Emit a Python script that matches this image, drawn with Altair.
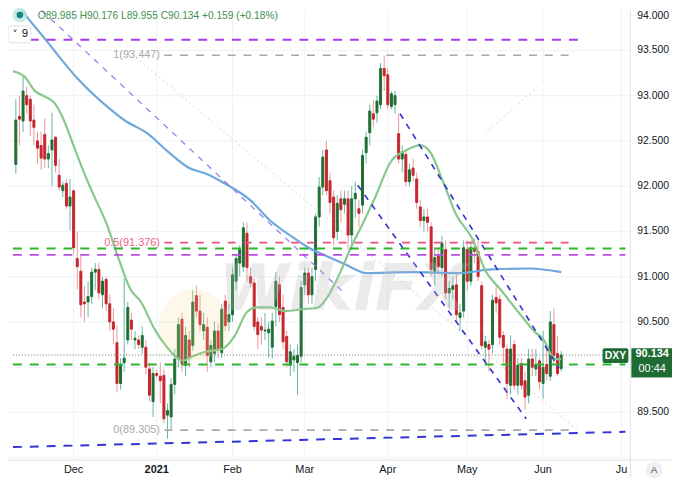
import altair as alt
import pandas as pd

# ---------------- data ----------------
dates = pd.bdate_range("2020-11-09", "2021-06-08")

opens = [
    92.24, 92.77, 92.72, 93.00, 92.96, 92.73, 92.50, 92.45, 92.57, 92.30,
    92.40, 92.54, 92.12, 91.95, 92.03, 91.78, 91.95, 91.20, 91.06, 90.72,
    90.72, 90.78, 91.05, 91.08, 90.80, 90.97, 90.70, 90.50, 90.27, 89.82,
    90.05, 90.30, 90.52, 90.30, 90.30, 90.22, 90.22, 89.98, 89.62, 89.93,
    89.90, 89.91, 89.47, 89.45, 89.81, 90.09, 90.53, 90.02, 90.30, 90.24,
    90.79, 90.62, 90.40, 90.44, 90.06, 90.15, 90.40, 90.16, 90.73, 90.50,
    90.58, 90.95, 91.15, 91.11, 91.48, 91.00, 90.93, 90.50, 90.45, 90.40,
    90.38, 90.22, 90.67, 90.91, 90.66, 90.34, 90.02, 90.08, 90.05, 90.12,
    90.91, 91.04, 90.80, 91.08, 91.66, 91.99, 92.40, 92.06, 91.88, 91.50,
    91.86, 91.80, 91.86, 91.46, 91.86, 91.75, 91.79, 92.37, 92.59, 92.80,
    92.81, 92.90, 93.30, 93.23, 92.88, 92.90, 92.58, 92.30, 92.35, 92.05,
    92.20, 92.08, 91.77, 91.62, 91.66, 91.55, 91.06, 91.23, 91.10, 91.30,
    90.82, 90.86, 90.91, 90.55, 90.62, 91.30, 90.95, 91.30, 91.28, 90.90,
    90.22, 90.25, 90.25, 90.77, 90.75, 90.35, 90.20, 89.80, 90.25, 89.80,
    90.04, 89.85, 89.69, 90.09, 89.98, 90.07, 89.82, 90.03, 89.90, 90.47,
    90.15, 89.985,
]
highs = [
    92.96, 93.00, 93.21, 93.10, 93.00, 92.90, 92.60, 92.60, 92.75, 92.45,
    92.81, 92.55, 92.30, 92.05, 92.08, 92.08, 91.95, 91.50, 91.25, 90.90,
    90.95, 91.10, 91.15, 91.15, 91.00, 91.00, 90.80, 90.65, 90.46, 90.10,
    90.98, 90.72, 90.60, 90.40, 90.35, 90.45, 90.30, 90.05, 90.00, 89.97,
    90.05, 89.98, 89.60, 89.88, 90.20, 90.55, 90.60, 90.45, 90.40, 90.85,
    90.90, 90.80, 90.60, 90.55, 90.30, 90.50, 90.48, 90.70, 90.80, 90.70,
    91.10, 91.25, 91.35, 91.60, 91.60, 91.10, 90.98, 90.55, 90.55, 90.60,
    90.50, 90.60, 91.05, 91.00, 90.80, 90.40, 90.25, 90.20, 90.25, 90.95,
    91.10, 91.10, 91.10, 91.70, 92.10, 92.40, 92.50, 92.15, 91.95, 91.90,
    91.95, 91.95, 91.95, 92.00, 92.05, 91.85, 92.40, 92.60, 92.90, 92.95,
    93.00, 93.36, 93.44, 93.30, 93.05, 93.05, 92.80, 92.45, 92.40, 92.25,
    92.30, 92.15, 91.85, 91.75, 91.75, 91.60, 91.30, 91.30, 91.45, 91.40,
    90.95, 91.00, 91.05, 90.70, 91.40, 91.40, 91.40, 91.42, 91.40, 90.95,
    90.35, 90.30, 90.80, 90.90, 90.80, 90.40, 90.25, 90.35, 90.30, 90.10,
    90.10, 89.95, 90.20, 90.20, 90.20, 90.10, 90.40, 90.20, 90.62, 90.65,
    90.35, 90.176,
]
lows = [
    92.14, 92.45, 92.60, 92.80, 92.55, 92.45, 92.25, 92.18, 92.20, 92.20,
    92.00, 92.15, 91.95, 91.88, 91.75, 91.51, 91.25, 90.86, 90.55, 90.50,
    90.55, 90.70, 90.85, 90.75, 90.65, 90.62, 90.40, 90.25, 89.72, 89.75,
    89.95, 90.25, 90.30, 90.20, 90.20, 90.15, 89.92, 89.62, 89.45, 89.88,
    89.60, 89.38, 89.21, 89.30, 89.70, 90.00, 89.95, 89.90, 90.00, 90.18,
    90.55, 90.40, 90.30, 89.95, 90.00, 90.05, 90.10, 90.10, 90.40, 90.40,
    90.50, 90.85, 91.00, 91.05, 90.95, 90.88, 90.40, 90.20, 90.25, 90.30,
    90.10, 90.10, 90.45, 90.50, 90.20, 90.00, 89.90, 89.95, 89.69, 90.05,
    90.80, 90.70, 90.70, 90.95, 91.55, 91.90, 91.90, 91.70, 91.35, 91.40,
    91.60, 91.70, 91.30, 91.30, 91.65, 91.55, 91.70, 92.25, 92.45, 92.65,
    92.70, 92.85, 93.05, 92.85, 92.85, 92.80, 92.25, 92.15, 92.00, 92.00,
    92.05, 91.75, 91.55, 91.50, 91.50, 91.00, 90.90, 91.05, 91.00, 90.75,
    90.65, 90.75, 90.50, 90.40, 90.55, 90.85, 90.90, 91.15, 90.95, 90.20,
    90.05, 89.95, 90.15, 90.60, 90.25, 90.05, 89.65, 89.70, 89.75, 89.70,
    89.75, 89.53, 89.60, 89.90, 89.90, 89.75, 89.65, 89.85, 89.85, 90.05,
    89.90, 89.955,
]
closes = [
    92.73, 92.74, 93.05, 92.90, 92.72, 92.65, 92.42, 92.31, 92.30, 92.36,
    92.51, 92.23, 91.99, 92.01, 91.78, 91.88, 91.32, 91.11, 90.69, 90.70,
    90.78, 91.05, 91.08, 90.82, 90.95, 90.70, 90.50, 90.42, 89.82, 90.02,
    90.10, 90.66, 90.42, 90.32, 90.25, 90.35, 90.00, 89.69, 89.93, 89.91,
    89.85, 89.43, 89.52, 89.81, 90.09, 90.47, 90.04, 90.35, 90.10, 90.72,
    90.62, 90.47, 90.47, 90.13, 90.24, 90.40, 90.19, 90.64, 90.46, 90.58,
    91.02, 91.20, 91.30, 91.54, 91.10, 90.93, 90.45, 90.36, 90.41, 90.41,
    90.42, 90.51, 90.95, 90.58, 90.28, 90.06, 90.17, 90.12, 90.13, 90.88,
    91.04, 90.80, 91.00, 91.66, 91.99, 92.32, 91.95, 91.82, 91.43, 91.81,
    91.74, 91.86, 91.46, 91.86, 91.92, 91.70, 92.34, 92.54, 92.83, 92.74,
    92.94, 93.30, 93.22, 92.90, 93.02, 93.00, 92.30, 92.38, 92.05, 92.18,
    92.12, 91.82, 91.62, 91.66, 91.60, 91.08, 91.21, 91.11, 91.37, 90.82,
    90.87, 90.90, 90.58, 90.60, 91.32, 90.95, 91.32, 91.28, 91.00, 90.24,
    90.28, 90.20, 90.74, 90.71, 90.33, 90.22, 89.82, 90.20, 89.80, 90.02,
    89.80, 89.67, 90.09, 90.00, 90.03, 89.84, 90.00, 89.93, 90.50, 90.13,
    89.93, 90.134,
]

# month ticks (bar index of first session of each month) and their labels
month_tick_idx = [16, 39, 60, 80, 103, 125, 146, 167.7]
month_tick_lbl = ["Dec", "2021", "Feb", "Mar", "Apr", "May", "Jun", "Ju"]
year_label = "2021"
price_grid = [89.0, 89.5, 90.0, 90.5, 91.0, 91.5, 92.0, 92.5, 93.0, 93.5, 94.0]
price_labels = [89.5, 90.5, 91.0, 91.5, 92.0, 92.5, 93.0, 93.5]
top_price_label = 94.0

# moving averages (bar index, value)
sma_green_idx = [-0.8, 2.4, 5.33, 8.0, 10.67, 13.07, 15.2, 17.87, 21.33, 25.07,
                 28.53, 31.73, 34.67, 38.4, 41.87, 44.53, 46.4, 49.07, 52.53, 57.07,
                 60.53, 64.0, 66.67, 70.4, 74.67, 79.2, 83.73, 85.87, 89.87, 92.53,
                 95.73, 99.2, 104.0, 107.73, 112.0, 114.67, 118.4, 121.87, 126.4, 129.87,
                 134.4, 140.53, 143.73, 146.4, 148.0, 149.87, 151.0]
sma_green_val = [93.27, 93.21, 93.05, 92.99, 92.92, 92.75, 92.53, 92.25, 91.92, 91.59,
                 91.19, 90.86, 90.72, 90.42, 90.22, 90.11, 90.07, 90.12, 90.17, 90.20,
                 90.34, 90.61, 90.66, 90.66, 90.62, 90.64, 90.66, 90.75, 91.05, 91.30,
                 91.56, 91.85, 92.28, 92.39, 92.45, 92.38, 92.04, 91.69, 91.42, 91.08,
                 90.85, 90.54, 90.39, 90.29, 90.15, 90.09, 90.09]
sma_blue_idx = [-0.8, 2.67, 8.0, 17.07, 25.87, 30.4, 36.53, 41.87, 48.0, 52.53,
                57.87, 65.07, 70.4, 76.53, 81.07, 85.33, 89.87, 92.53, 97.07, 109.33,
                122.67, 131.73, 142.4, 151.0]
sma_blue_val = [94.07, 93.89, 93.63, 93.19, 92.86, 92.72, 92.58, 92.39, 92.20, 92.14,
                92.03, 91.84, 91.62, 91.44, 91.32, 91.24, 91.16, 91.11, 91.04, 91.05,
                91.04, 91.08, 91.09, 91.05]

# drawn lines: [bar index start, value start, bar index end, value end]
trend_bottom_blue = [-0.8, 89.117, 168.8, 89.286]
trend_lavender = [4.8, 94.03, 91.2, 90.81]
channel_upper = [106.4, 92.80, 150.4, 89.99]
channel_lower = [94.67, 92.01, 141.33, 89.43]
faint_diag = [31.2, 93.49, 156.0, 89.29]
faint_rise = [129.9, 92.58, 144.5, 93.10]

fib_values = [93.447, 91.376, 89.305]
fib_labels = ["1(93.447)", "0.5(91.376)", "0(89.305)"]
fib_span = [41.1, 153.3]
top_level = 93.617
top_span = [-0.8, 156.5]
green_levels = [91.31, 90.03]
magenta_level = 91.24
full_span = [-0.8, 168.8]

last_ohlc = {"O": "89.985", "H": "90.176", "L": "89.955", "C": "90.134"}
last_change = "+0.159 (+0.18%)"
last_price = 90.134
countdown = "00:44"
symbol = "DXY"
interval = "9"

# ---------------- styling ----------------
FONT = "Liberation Sans"
X_DOMAIN = [-0.8, 168.8]
Y_DOMAIN = [88.974, 93.945]
W, H = 628, 454
xs = alt.Scale(domain=X_DOMAIN, nice=False, zero=False)
ys = alt.Scale(domain=Y_DOMAIN, nice=False, zero=False)
GRID = "#eef1f6"
AXIS_LINE = "#e0e3eb"
TXT = "#131722"

n = len(dates)
assert len(opens) == len(highs) == len(lows) == len(closes) == n

df = pd.DataFrame({
    "idx": list(range(n)),
    "date": dates.strftime("%Y-%m-%d"),
    "open": opens, "high": highs, "low": lows, "close": closes,
})

one = pd.DataFrame({"k": [0]})

# ---------- grid + axes drawn as marks ----------
hgrid = alt.Chart(pd.DataFrame({"v": price_grid})).mark_rule(
    color=GRID, strokeWidth=1, clip=True).encode(
    y=alt.Y("v:Q", scale=ys, axis=None), x=alt.value(0), x2=alt.value(W))
vgrid = alt.Chart(pd.DataFrame({"i": month_tick_idx})).mark_rule(color=GRID, strokeWidth=1).encode(
    x=alt.X("i:Q", scale=xs, axis=None), y=alt.value(0), y2=alt.value(H))
right_line = alt.Chart(one).mark_rule(color=AXIS_LINE, strokeWidth=1).encode(
    x=alt.value(W), y=alt.value(0), y2=alt.value(H + 18))
bottom_line = alt.Chart(one).mark_rule(color=AXIS_LINE, strokeWidth=1).encode(
    x=alt.value(0), x2=alt.value(W + 42), y=alt.value(H))

ylab_df = pd.DataFrame({"v": price_labels, "t": [f"{v:.3f}" for v in price_labels]})
ylabels = alt.Chart(ylab_df).mark_text(align="left", baseline="middle", font=FONT,
                                       fontSize=10.5, color=TXT).encode(
    y=alt.Y("v:Q", scale=ys, axis=None), x=alt.value(W + 7), text="t:N")
# top label sits just above the visible range: keep it readable at the top edge
ylabel_top = alt.Chart(one).mark_text(align="left", baseline="top", font=FONT,
                                      fontSize=10.5, color=TXT).encode(
    y=alt.value(1), x=alt.value(W + 7), text=alt.value(f"{top_price_label:.3f}"))

xlab_df = pd.DataFrame({"i": month_tick_idx, "t": month_tick_lbl,
                        "w": ["bold" if l == year_label else "normal" for l in month_tick_lbl]})
xlabels = alt.Chart(xlab_df).transform_filter(alt.datum.w == "normal").mark_text(
    align="center", baseline="top", font=FONT, fontSize=11, color=TXT).encode(
    x=alt.X("i:Q", scale=xs, axis=None), y=alt.value(H + 4), text="t:N")
xlabels_bold = alt.Chart(xlab_df).transform_filter(alt.datum.w == "bold").mark_text(
    align="center", baseline="top", font=FONT, fontSize=11, fontWeight="bold", color=TXT).encode(
    x=alt.X("i:Q", scale=xs, axis=None), y=alt.value(H + 4), text="t:N")

# ---------- candles ----------
up = alt.datum.close >= alt.datum.open

wicks = alt.Chart(df).mark_rule(strokeWidth=1, clip=True).encode(
    x=alt.X("idx:Q", scale=xs, axis=None),
    y=alt.Y("low:Q", scale=ys, axis=None),
    y2="high:Q",
    color=alt.when(up).then(alt.value("#62b8a8")).otherwise(alt.value("#f0959b")),
)
bodies = alt.Chart(df).mark_bar(size=2, strokeWidth=1, orient="vertical", clip=True).encode(
    x=alt.X("idx:Q", scale=xs, axis=None),
    y=alt.Y("open:Q", scale=ys, axis=None),
    y2="close:Q",
    color=alt.when(up).then(alt.value("#1f6e33")).otherwise(alt.value("#c4262e")),
    stroke=alt.when(up).then(alt.value("#1f6e33")).otherwise(alt.value("#c4262e")),
)


def line_layer(idx, val, color, width):
    d = pd.DataFrame({"i": idx, "v": val})
    return alt.Chart(d).mark_line(color=color, strokeWidth=width, interpolate="monotone",
                                  clip=True).encode(
        x=alt.X("i:Q", scale=xs, axis=None),
        y=alt.Y("v:Q", scale=ys, axis=None),
    )


def seg_layer(segs, color, dash, width, opacity=1.0):
    d = pd.DataFrame(segs, columns=["x0", "y0", "x1", "y1"])
    return alt.Chart(d).mark_rule(color=color, strokeDash=dash, strokeWidth=width,
                                  opacity=opacity, clip=True).encode(
        x=alt.X("x0:Q", scale=xs, axis=None),
        x2="x1:Q",
        y=alt.Y("y0:Q", scale=ys, axis=None),
        y2="y1:Q",
    )


faint = seg_layer([faint_diag, faint_rise], "#c9c9c9", [2, 3], 1, 0.8)
sma_blue = line_layer(sma_blue_idx, sma_blue_val, "#6fa8dc", 2.2)
sma_green = line_layer(sma_green_idx, sma_green_val, "#86c98b", 2.2)
lavender = seg_layer([trend_lavender], "#9d7fe6", [6, 6], 1.3)
channel = seg_layer([channel_upper, channel_lower], "#2f2fd4", [6, 6], 1.6)
bottom_trend = seg_layer([trend_bottom_blue], "#3434d8", [9, 8], 2)

purple = seg_layer([[top_span[0], top_level, top_span[1], top_level]], "#a83be6", [9, 8], 2)
fib_gray = seg_layer([[fib_span[0], v, fib_span[1], v] for v in (fib_values[0], fib_values[2])],
                     "#a8a8a8", [8, 8], 1.6)
fib_pink = seg_layer([[fib_span[0], fib_values[1], fib_span[1], fib_values[1]]], "#ee4f7e", [8, 8], 1.6)
greens = seg_layer([[full_span[0], v, full_span[1], v] for v in green_levels], "#2db52d", [9, 8], 2)
magenta = seg_layer([[full_span[0], magenta_level, full_span[1], magenta_level]], "#b44fe0", [9, 8], 1.8)
price_line = seg_layer([[full_span[0], last_price, full_span[1], last_price]], "#6b6b6b", [1, 2], 1)

fib_df = pd.DataFrame({"i": [fib_span[0] - 1.2] * 3, "v": fib_values, "t": fib_labels,
                       "c": ["gray", "pink", "gray"]})
fib_text = alt.Chart(fib_df).mark_text(align="right", baseline="middle", font=FONT,
                                        fontSize=11).encode(
    x=alt.X("i:Q", scale=xs, axis=None),
    y=alt.Y("v:Q", scale=ys, axis=None),
    text="t:N",
    color=alt.Color("c:N", scale=alt.Scale(domain=["gray", "pink"], range=["#a8a8a8", "#ee5f8a"]),
                    legend=None),
)

# ---------- decorations ----------
logo_blob = alt.Chart(one).mark_point(shape="circle", filled=True, size=5200,
                                      color="#f3dc93", opacity=0.2).encode(
    x=alt.value(188), y=alt.value(318))
watermark = alt.Chart(one).mark_text(font="DejaVu Sans", fontSize=64, fontWeight="bold",
                                     fontStyle="italic", color="#b8b8b8", opacity=0.28,
                                     align="center", baseline="middle").encode(
    x=alt.value(338), y=alt.value(284), text=alt.value("WikiFX"))

halo = alt.Chart(one).mark_point(shape="circle", filled=True, size=220, color="#bfe6e1",
                                 opacity=0.8).encode(x=alt.value(12), y=alt.value(5))
dot = alt.Chart(one).mark_point(shape="circle", filled=True, size=45, color="#11887b",
                                opacity=1).encode(x=alt.value(12), y=alt.value(5))
header_txt = " ".join(k + v for k, v in last_ohlc.items()) + " " + last_change
header = alt.Chart(one).mark_text(align="left", baseline="middle", font=FONT, fontSize=10.3,
                                  color="#3f8f54").encode(
    x=alt.value(30), y=alt.value(6), text=alt.value(header_txt))

box9 = alt.Chart(one).mark_rect(fill="white", stroke="#dfe2ea", strokeWidth=1,
                                cornerRadius=3).encode(
    x=alt.value(0), x2=alt.value(23), y=alt.value(16), y2=alt.value(33))
chev = alt.Chart(one).mark_text(align="center", baseline="middle", font="DejaVu Sans",
                                fontSize=10, color=TXT).encode(
    x=alt.value(7), y=alt.value(25), text=alt.value("˅"))
nine = alt.Chart(one).mark_text(align="center", baseline="middle", font=FONT,
                                fontSize=11.5, color=TXT).encode(
    x=alt.value(17), y=alt.value(24.5), text=alt.value(interval))

box_df = pd.DataFrame({"top": [90.21], "bot_sym": [90.047], "bot_px": [89.885],
                       "mid": [90.128], "px": [90.14], "cd": [89.975]})
sym_box = alt.Chart(box_df).mark_rect(fill="#1e6b34", cornerRadius=2).encode(
    x=alt.value(600), x2=alt.value(626),
    y=alt.Y("top:Q", scale=ys, axis=None), y2="bot_sym:Q")
sym_txt = alt.Chart(box_df).mark_text(align="center", baseline="middle", font=FONT,
                                      fontSize=10.5, fontWeight="bold", color="white").encode(
    x=alt.value(613), y=alt.Y("mid:Q", scale=ys, axis=None), text=alt.value(symbol))
px_box = alt.Chart(box_df).mark_rect(fill="#1e6b34").encode(
    x=alt.value(629), x2=alt.value(672),
    y=alt.Y("top:Q", scale=ys, axis=None), y2="bot_px:Q")
px_txt = alt.Chart(box_df).mark_text(align="center", baseline="middle", font=FONT,
                                     fontSize=11, fontWeight="bold", color="white").encode(
    x=alt.value(650), y=alt.Y("px:Q", scale=ys, axis=None), text=alt.value(f"{last_price:.3f}"))
cd_txt = alt.Chart(box_df).mark_text(align="center", baseline="middle", font=FONT,
                                     fontSize=11, color="white").encode(
    x=alt.value(650), y=alt.Y("cd:Q", scale=ys, axis=None), text=alt.value(countdown))

a_circle = alt.Chart(one).mark_point(shape="circle", filled=True, size=280,
                                     color="#eef0f3", opacity=1).encode(
    x=alt.value(652), y=alt.value(464))
a_txt = alt.Chart(one).mark_text(align="center", baseline="middle", font=FONT, fontSize=10,
                                 color="#555555").encode(
    x=alt.value(652), y=alt.value(464.5), text=alt.value("A"))

chart = alt.layer(
    hgrid, vgrid, right_line, bottom_line, ylabels, ylabel_top, xlabels, xlabels_bold,
    faint, wicks, bodies, sma_blue, sma_green, lavender, channel, bottom_trend,
    purple, fib_gray, fib_pink, greens, magenta, price_line, fib_text,
    logo_blob, watermark, halo, dot, header, box9, chev, nine,
    sym_box, sym_txt, px_box, px_txt, cd_txt, a_circle, a_txt,
).properties(
    width=W, height=H,
    autosize=alt.AutoSizeParams(type="none"),
    padding={"left": 0, "top": 0, "right": 42, "bottom": 18},
    background="white",
).configure_view(stroke=None)

chart.save("out.html", embed_options={"renderer": "svg", "actions": False})
